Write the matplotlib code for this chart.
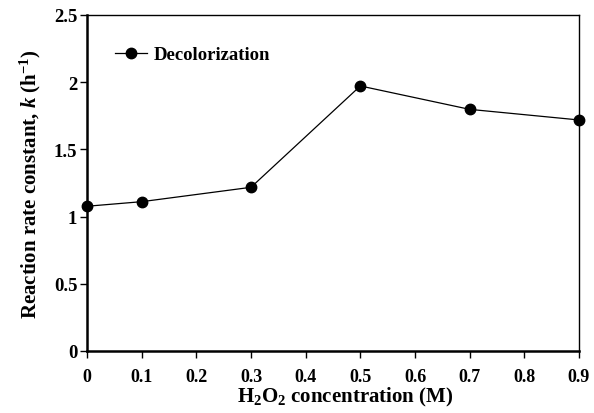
import matplotlib
matplotlib.use("Agg")
import matplotlib.pyplot as plt

h2o2_conc = [0.0, 0.1, 0.3, 0.5, 0.7, 0.9]
rate_k = [1.077, 1.111, 1.218, 1.972, 1.798, 1.719]
x_ticks = [0, 0.1, 0.2, 0.3, 0.4, 0.5, 0.6, 0.7, 0.8, 0.9]
x_tick_labels = ["0", "0.1", "0.2", "0.3", "0.4", "0.5", "0.6", "0.7", "0.8", "0.9"]
y_ticks = [0, 0.5, 1, 1.5, 2, 2.5]
y_tick_labels = ["0", "0.5", "1", "1.5", "2", "2.5"]

plt.rcParams['font.family'] = ['Liberation Serif', 'DejaVu Serif']
plt.rcParams['mathtext.fontset'] = 'custom'
plt.rcParams['mathtext.rm'] = 'Liberation Serif:bold'
plt.rcParams['mathtext.it'] = 'Liberation Serif:bold:italic'
plt.rcParams['mathtext.bf'] = 'Liberation Serif:bold'

fig = plt.figure(figsize=(5.94, 4.14), dpi=100)
ax = fig.add_axes([87/594, 1 - 352/414, (579-87)/594, (352-16)/414])

ax.plot(h2o2_conc, rate_k, color='black', linewidth=0.9, marker='o',
        markersize=7.5, markerfacecolor='black', markeredgecolor='black',
        clip_on=False, zorder=3, label='Decolorization')

ax.set_xlim(0, 0.9)
ax.set_ylim(0, 2.5)
ax.set_xticks(x_ticks)
ax.set_xticklabels(x_tick_labels)
ax.set_yticks(y_ticks)
ax.set_yticklabels(y_tick_labels)

for lab in ax.get_xticklabels():
    lab.set_fontweight('bold')
    lab.set_fontsize(13)
for lab in ax.get_yticklabels():
    lab.set_fontweight('bold')
    lab.set_fontsize(13.5)

ax.tick_params(axis='both', direction='out', length=5, width=1, top=False, right=False)
ax.tick_params(axis='x', pad=7)
ax.tick_params(axis='y', pad=2)

ax.spines['left'].set_linewidth(1.8)
ax.spines['bottom'].set_linewidth(1.8)
ax.spines['top'].set_linewidth(1.0)
ax.spines['right'].set_linewidth(1.0)

ax.set_xlabel(r'H$_\mathregular{2}$O$_\mathregular{2}$ concentration (M)', fontsize=15, fontweight='bold')
ax.xaxis.set_label_coords((345-87)/492, -(397-352)/336)
ax.xaxis.label.set_verticalalignment('center')
ax.set_ylabel(r'Reaction rate constant, $k$ (h$^\mathregular{-1}$)', fontsize=15, fontweight='bold', labelpad=8)

leg = ax.legend(loc='upper left', bbox_to_anchor=(28/492, 1 - 31/336), frameon=False,
                borderaxespad=0, borderpad=0,
                prop={'weight': 'bold', 'size': 13.5}, handlelength=1.7, handletextpad=0.37)

fig.savefig('out.png', dpi=100)
